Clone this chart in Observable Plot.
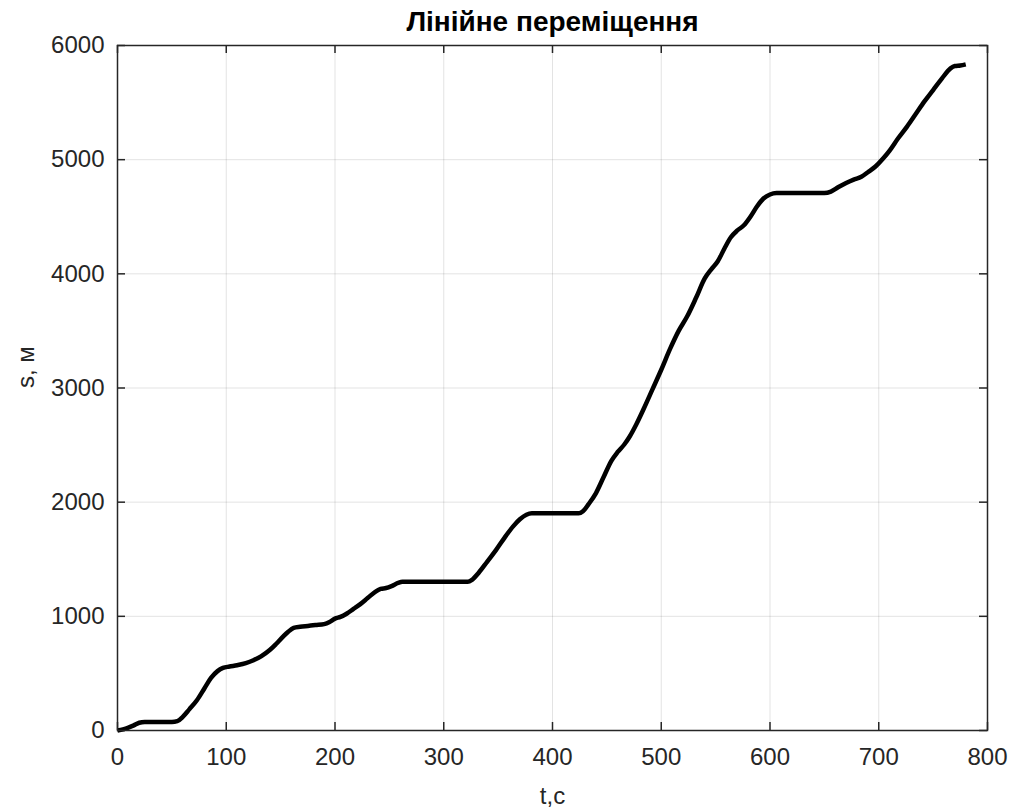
<!DOCTYPE html>
<html>
<head>
<meta charset="utf-8">
<script src="https://cdn.jsdelivr.net/npm/d3@7"></script>
<script src="https://cdn.jsdelivr.net/npm/@observablehq/plot@0.6"></script>
<style>
  html, body { margin: 0; padding: 0; background: #fff; }
</style>
</head>
<body>
<div id="chart"></div>
<script>
// Time, s
const t = [0,5,10,15,20,25,50,55,60,66,73,80,86,92,97,103,110,118,125,132,140,146,152,157,162,168,175,182,190,195,200,205,211,217,223,230,237,242,247,252,258,262,290,322,326,332,340,348,356,364,370,376,381,400,424,428,433,440,447,454,460,466,471,477,484,492,500,508,516,524,532,540,546,552,558,564,570,576,582,588,594,600,606,650,656,663,670,677,684,690,697,704,710,718,726,734,742,750,758,766,770,775,780];
// Linear displacement, m
const s = [0,10,25,45,68,75,75,82,120,185,265,370,460,520,548,560,572,590,615,650,705,760,820,865,898,908,916,924,932,950,980,995,1025,1065,1105,1160,1215,1240,1248,1265,1292,1302,1302,1302,1320,1380,1480,1580,1690,1790,1850,1890,1902,1902,1902,1920,1980,2080,2220,2360,2440,2505,2575,2680,2820,2990,3160,3340,3500,3630,3790,3960,4040,4110,4220,4320,4380,4425,4500,4590,4660,4695,4707,4707,4720,4760,4795,4825,4850,4890,4940,5010,5080,5190,5290,5400,5510,5610,5710,5800,5820,5825,5835];

const xTicks = [0,100,200,300,400,500,600,700,800];
const yTicks = [0,1000,2000,3000,4000,5000,6000];

const title = "Лінійне переміщення";
const xLabel = "t,c";
const yLabel = "s, м";

const data = t.map((ti, i) => ({t: ti, s: s[i]}));

const W = 1009, H = 812;
const mL = 117, mR = 22, mT = 45, mB = 82;
const innerW = W - mL - mR, innerH = H - mT - mB;
const tickLen = 8;
const ink = "#262626";

const chart = Plot.plot({
  width: W,
  height: H,
  marginLeft: mL,
  marginRight: mR,
  marginTop: mT,
  marginBottom: mB,
  style: {fontFamily: "'Liberation Sans', Arial, Helvetica, sans-serif", fontSize: "24px", color: ink, background: "#fff"},
  x: {domain: [0, 800]},
  y: {domain: [0, 6000]},
  marks: [
    Plot.gridX(xTicks, {stroke: ink, strokeOpacity: 0.13, strokeWidth: 1}),
    Plot.gridY(yTicks, {stroke: ink, strokeOpacity: 0.13, strokeWidth: 1}),
    // inward ticks on all four sides
    Plot.tickX(xTicks, {x: d => d, stroke: ink, strokeWidth: 1.5, insetTop: innerH - tickLen}),
    Plot.tickX(xTicks, {x: d => d, stroke: ink, strokeWidth: 1.5, insetBottom: innerH - tickLen}),
    Plot.tickY(yTicks, {y: d => d, stroke: ink, strokeWidth: 1.5, insetRight: innerW - tickLen}),
    Plot.tickY(yTicks, {y: d => d, stroke: ink, strokeWidth: 1.5, insetLeft: innerW - tickLen}),
    Plot.axisX(xTicks, {anchor: "bottom", tickSize: 0, tickPadding: 17, fontSize: 24, fill: ink, label: null, tickFormat: d => String(d)}),
    Plot.axisY(yTicks, {anchor: "left", tickSize: 0, tickPadding: 13, fontSize: 24, fill: ink, label: null, tickFormat: d => String(d)}),
    Plot.line(data, {x: "t", y: "s", stroke: "#000", strokeWidth: 4.5, curve: "monotone-x", strokeLinejoin: "round", strokeLinecap: "butt"}),
    Plot.frame({stroke: ink, strokeWidth: 1.5}),
    Plot.text([title], {frameAnchor: "top", dy: -23, fontSize: 28, fontWeight: "bold", fill: "#000", lineAnchor: "middle"}),
    Plot.text([xLabel], {frameAnchor: "bottom", dy: 66, fontSize: 24, fill: ink, lineAnchor: "middle"}),
    Plot.text([yLabel], {frameAnchor: "left", dx: -91, fontSize: 24, fill: ink, rotate: -90, lineAnchor: "middle"})
  ]
});

document.getElementById("chart").appendChild(chart);
</script>
</body>
</html>
